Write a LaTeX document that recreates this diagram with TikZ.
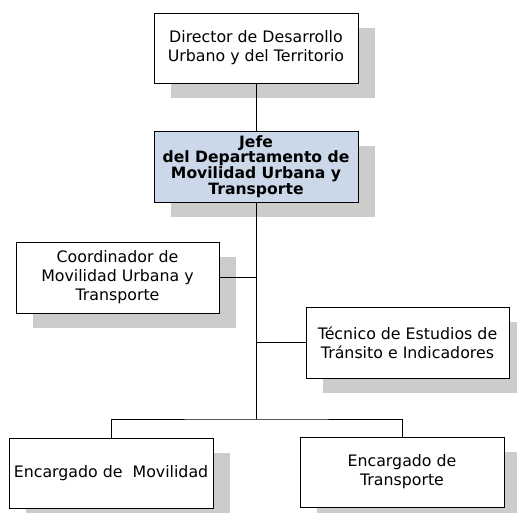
\documentclass[tikz,border=0pt]{standalone}
\usepackage{fontspec}
\setmainfont{DejaVu Sans}
\usetikzlibrary{shadows}
\definecolor{shadowgray}{RGB}{204,204,204}
\definecolor{jefeblue}{RGB}{203,216,233}
\begin{document}
\begin{tikzpicture}[x=1pt,y=-1pt,
  orgbox/.style={draw=black, fill=white, line width=0.9pt, align=center,
    minimum width=204pt, minimum height=70pt, inner sep=1pt,
    font=\fontsize{15.8}{19}\selectfont,
    general shadow={fill=shadowgray, shadow xshift=17pt, shadow yshift=-15pt}},
  jefebox/.style={orgbox, fill=jefeblue, font=\fontsize{15.6}{15.8}\selectfont\bfseries},
  conn/.style={line width=0.9pt, draw=black}]
\useasboundingbox (0,0) rectangle (517,512);
\node[orgbox] (dir) at (256,48) {Director de Desarrollo\\Urbano y del Territorio};
\node[jefebox, minimum height=71pt] (jefe) at (256,166.5) {Jefe\\del Departamento de\\Movilidad Urbana y\\Transporte};
\node[orgbox, minimum width=203pt, minimum height=71pt] (coord) at (117.5,277.5) {Coordinador de\\Movilidad Urbana y\\Transporte};
\node[orgbox, minimum width=203pt, minimum height=71pt] (tec) at (407.5,342.5) {Técnico de Estudios de\\Tránsito e Indicadores};
\node[orgbox] (encmov) at (111,473) {Encargado de\ \ Movilidad};
\node[orgbox] (enctra) at (402,472) {Encargado de\\Transporte};
\coordinate (bot) at (256,419);
\draw[conn] (dir.south) -- (jefe.north);
\draw[conn] (jefe.south) -- (bot);
\draw[conn] (coord.east) -- (coord.east -| jefe.south);
\draw[conn] (tec.west) -- (tec.west -| jefe.south);
\draw[conn] (encmov.north) |- (bot) -| (enctra.north);
\end{tikzpicture}
\end{document}
